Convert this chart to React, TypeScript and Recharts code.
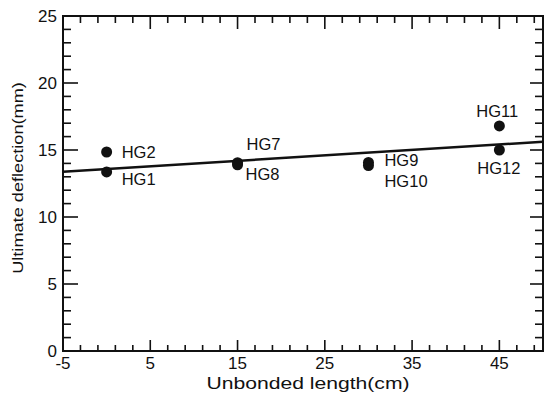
import { ReferenceArea, Scatter, ScatterChart, XAxis, YAxis } from "recharts";

const labels = ["HG1", "HG2", "HG7", "HG8", "HG9", "HG10", "HG11", "HG12"];
const unbonded = [0, 0, 15, 15, 30, 30, 45, 45];
const deflection = [13.36, 14.85, 14.05, 13.9, 14.07, 13.84, 16.8, 15.0];
const fitX = [-5, 50];
const fitY = [13.38, 15.62];

const xMajor = [-5, 5, 15, 25, 35, 45];
const yMajor = [0, 5, 10, 15, 20, 25];
const xTicks = Array.from({ length: 28 }, (_, i) => -5 + i * 2);
const yTicks = Array.from({ length: 26 }, (_, i) => i);

const xTitle = "Unbonded length(cm)";
const yTitle = "Ultimate deflection(mm)";

// label offset per point (dx, dy) from the marker centre
const labelOffsets: Record<string, [number, number]> = {
  HG1: [15, 13],
  HG2: [15, 6],
  HG7: [9, -13],
  HG8: [8, 15],
  HG9: [16, 4],
  HG10: [16, 21],
  HG11: [-23, -9],
  HG12: [-22, 24],
};

const points = labels.map((name, i) => ({
  name,
  x: unbonded[i],
  y: deflection[i],
}));
const fit = fitX.map((x, i) => ({ x, y: fitY[i] }));

// tick marks drawn inside the frame on all four sides
const bottomMarks = xTicks.map((x) => ({ x, y: 0, side: "b" }));
const topMarks = xTicks.map((x) => ({ x, y: 25, side: "t" }));
const leftMarks = yTicks.map((y) => ({ x: -5, y, side: "l" }));
const rightMarks = yTicks.map((y) => ({ x: 50, y, side: "r" }));

const INK = "#111";
const FONT = "'Liberation Sans', Arial, sans-serif";

function MarkShape(props: any) {
  const { cx, cy, payload } = props;
  if (cx == null || cy == null || !payload) return <g />;
  const side = payload.side;
  let d: string;
  if (side === "b" || side === "t") {
    const major = xMajor.includes(payload.x);
    const len = side === "b" ? (major ? 11 : 6) : major ? 13 : 7;
    d = `M${cx},${cy}V${side === "b" ? cy - len : cy + len}`;
  } else {
    const major = yMajor.includes(payload.y);
    const len = side === "l" ? (major ? 15 : 8) : major ? 13 : 8;
    d = `M${cx},${cy}H${side === "l" ? cx + len : cx - len}`;
  }
  return <path d={d} stroke={INK} strokeWidth={1.6} fill="none" />;
}

function BottomTick(props: any) {
  const { x, y, payload } = props;
  if (!xMajor.includes(payload.value)) return <g />;
  return (
    <text x={x} y={y + 18} textAnchor="middle" fontSize={17} fontFamily={FONT} fill={INK}>
      {payload.value}
    </text>
  );
}

function LeftTick(props: any) {
  const { x, y, payload } = props;
  if (!yMajor.includes(payload.value)) return <g />;
  return (
    <text x={x - 6} y={y + 6} textAnchor="end" fontSize={17} fontFamily={FONT} fill={INK}>
      {payload.value}
    </text>
  );
}

function PointShape(props: any) {
  const { cx, cy, payload } = props;
  const [dx, dy] = labelOffsets[payload.name] ?? [12, 5];
  return (
    <g>
      <circle cx={cx} cy={cy} r={5.5} fill={INK} />
      <text x={cx + dx} y={cy + dy} fontSize={16.5} fontFamily={FONT} fill={INK}>
        {payload.name}
      </text>
    </g>
  );
}

const titleStyle = {
  position: "absolute" as const,
  left: 0,
  top: 0,
  whiteSpace: "nowrap" as const,
  fontFamily: FONT,
  color: INK,
  transformOrigin: "0 0",
};

export default function App() {
  return (
    <div style={{ position: "absolute", left: 0, top: 0, width: 545, height: 394 }}>
      <ScatterChart width={545} height={394} margin={{ top: 16, right: 2, bottom: 0, left: 0 }}>
        <XAxis
          dataKey="x"
          type="number"
          domain={[-5, 50]}
          ticks={xTicks}
          interval={0}
          tickSize={0}
          tickMargin={0}
          tickLine={false}
          tick={<BottomTick />}
          axisLine={false}
          height={43}
        />
        <YAxis
          dataKey="y"
          type="number"
          domain={[0, 25]}
          ticks={yTicks}
          interval={0}
          tickSize={0}
          tickMargin={0}
          tickLine={false}
          tick={<LeftTick />}
          axisLine={false}
          width={63}
        />
        <ReferenceArea x1={-5} x2={50} y1={0} y2={25} fill="none" stroke={INK} strokeWidth={2} ifOverflow="visible" />
        <Scatter data={bottomMarks} shape={<MarkShape />} isAnimationActive={false} />
        <Scatter data={topMarks} shape={<MarkShape />} isAnimationActive={false} />
        <Scatter data={leftMarks} shape={<MarkShape />} isAnimationActive={false} />
        <Scatter data={rightMarks} shape={<MarkShape />} isAnimationActive={false} />
        <Scatter
          data={fit}
          line={{ stroke: INK, strokeWidth: 2.5 }}
          shape={() => <g />}
          isAnimationActive={false}
        />
        <Scatter data={points} shape={<PointShape />} isAnimationActive={false} />
      </ScatterChart>
      <div style={{ position: "absolute", left: 308, top: 389, width: 0, height: 0 }}>
        <div
          style={{
            ...titleStyle,
            fontSize: 16.5,
            lineHeight: "16.5px",
            transform: "scaleX(1.28) translate(-50%, -14px)",
          }}
        >
          {xTitle}
        </div>
      </div>
      <div style={{ position: "absolute", left: 23, top: 178, width: 0, height: 0 }}>
        <div
          style={{
            ...titleStyle,
            fontSize: 15,
            lineHeight: "15px",
            transform: "rotate(-90deg) scaleX(1.21) translate(-50%, -12.7px)",
          }}
        >
          {yTitle}
        </div>
      </div>
    </div>
  );
}
